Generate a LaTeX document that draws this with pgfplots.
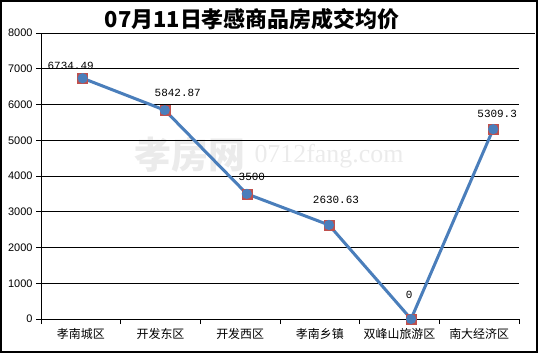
\documentclass[border=0pt]{standalone}
\usepackage{fontspec}
\setmainfont{Liberation Sans}
\newfontfamily\cjk{Noto Sans CJK SC}
\newfontfamily\mono{Liberation Mono}
\newfontfamily\wmserif{Liberation Serif}
\usepackage{pgfplots}
\usepackage{pgfplotstable}
\pgfplotsset{compat=1.18}
\definecolor{lineblue}{HTML}{4A7EBB}
\definecolor{mred}{HTML}{C0504D}
\pgfplotstableread{
x y label dx dy
0 6734.49 6734.49 -12 12
1 5842.87 5842.87 13 17
2 3500 3500 5 17
3 2630.63 2630.63 7 25
4 0 0 -2 24
5 5309.3 5309.3 4 15
}\prices
\begin{document}
\begin{tikzpicture}[x=1bp,y=1bp]
\useasboundingbox (0,0) rectangle (538,353);
\node[gray!16, font=\cjk\bfseries\fontsize{37}{37}\selectfont] at (190,198) {孝房网};
\node[gray!16, font=\wmserif\fontsize{26}{26}\selectfont, anchor=west] at (251,197) {0712fang.com};
% frame axis: categories, ticks, grid
\begin{axis}[
  at={(41bp,34bp)}, anchor=south west,
  scale only axis, width=478bp, height=286bp,
  xmin=-0.5, xmax=5.5, ymin=0, ymax=8000,
  axis x line*=bottom, axis y line*=left,
  axis line style={black, line width=0.9bp},
  tick align=outside,
  major tick length=5bp, minor tick length=5bp,
  every tick/.style={black, line width=0.9bp},
  ytick={0,1000,...,8000},
  extra y ticks={1000,2000,...,8000},
  extra y tick labels={},
  extra y tick style={grid=major, major grid style={black, line width=0.9bp, shorten >=-16bp}},
  xtick={0,...,5},
  xticklabels={孝南城区,开发东区,开发西区,孝南乡镇,双峰山旅游区,南大经济区},
  minor xtick={-0.5,0.5,...,5.5},
  xtick style={draw=none},
  minor x tick style={draw=black, line width=0.9bp},
  x tick label style={font=\cjk\fontsize{12}{14}\selectfont, yshift=-1bp},
  y tick label style={font=\fontsize{11}{13}\selectfont},
  /pgf/number format/.cd, set thousands separator={}, assume math mode=true,
  /pgfplots/.cd,
  clip=false,
]
\end{axis}
% data axis
\begin{axis}[
  at={(41.6bp,34bp)}, anchor=south west,
  scale only axis, width=492.6bp, height=286bp,
  xmin=-0.5, xmax=5.5, ymin=0, ymax=8000,
  hide axis, clip=false,
]
\addplot[only marks, mark=square*, mark size=5bp, mark options={fill=mred, draw=mred}] table[x=x,y=y] {\prices};
\addplot[lineblue, line width=3bp, mark=*, mark size=3.5bp, mark options={fill=lineblue, draw=lineblue},
  visualization depends on={\thisrow{dx} \as \ldx},
  visualization depends on={\thisrow{dy} \as \ldy},
  nodes near coords, point meta=explicit symbolic,
  every node near coord/.append style={font=\mono\fontsize{11}{13}\selectfont, black, anchor=center, xshift=\ldx bp, yshift=\ldy bp}]
  table[x=x,y=y,meta=label] {\prices};
\end{axis}
\node[font=\cjk\bfseries\fontsize{22}{24}\selectfont] at (252,334) {07月11日孝感商品房成交均价};
\draw[line width=2bp] (1,1) rectangle (537,352);
\end{tikzpicture}
\end{document}
